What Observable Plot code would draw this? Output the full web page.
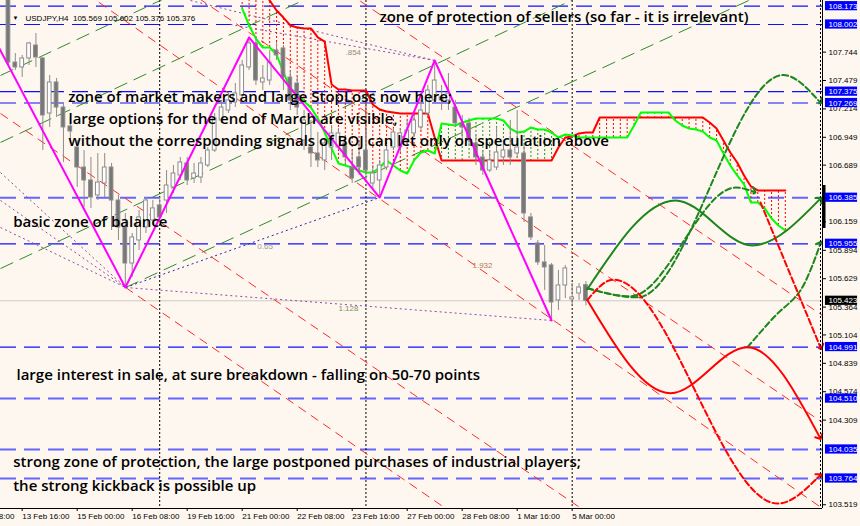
<!DOCTYPE html>
<html><head><meta charset="utf-8">
<script src="https://cdn.jsdelivr.net/npm/d3@7"></script>
<script src="https://cdn.jsdelivr.net/npm/@observablehq/plot@0.6"></script>
<style>
html,body{margin:0;padding:0;background:#fdf7ef;overflow:hidden;}
#chart svg{display:block;}
</style></head><body><div id="chart"></div>
<script>
// ---------- data ----------
const firstBar = -2;
const candleOpen = [108.319,107.647,107.601,107.685,107.806,107.685,107.171,107.461,107.227,107.050,
106.854,106.667,106.546,106.406,106.518,106.667,106.359,106.107,105.771,105.986,
106.107,106.173,106.313,106.359,106.481,106.593,106.705,106.565,106.574,106.686,
106.826,107.106,107.199,107.274,107.339,107.601,107.825,107.461,107.479,107.759,
107.778,107.507,107.451,106.919,106.854,106.798,106.733,106.854,106.854,106.891,
106.667,106.761,106.826,106.518,106.546,106.667,106.854,106.854,106.919,106.985,
107.041,107.171,107.293,107.321,107.293,107.227,107.078,107.078,106.891,106.761,
106.639,106.667,106.761,106.826,106.798,106.798,106.201,105.958,105.781,105.753,
105.426,105.566,105.435,105.491,105.569];
const candleHigh = [108.413,107.731,107.713,107.834,107.918,107.694,107.526,107.498,107.265,107.134,
106.919,106.826,106.761,106.798,106.798,106.705,106.406,106.238,106.051,106.266,
106.387,106.359,106.387,106.639,106.686,106.761,106.761,106.705,106.761,106.854,
107.171,107.293,107.358,107.451,107.666,107.881,107.881,107.619,107.759,107.834,
107.806,107.573,107.526,107.199,107.106,106.994,106.938,107.059,107.031,106.966,
106.826,106.919,107.013,106.686,106.733,106.873,107.031,107.031,107.106,107.153,
107.293,107.433,107.666,107.433,107.545,107.293,107.153,107.125,106.966,106.826,
106.826,107.041,106.919,107.106,107.199,106.873,106.238,105.986,105.939,105.771,
105.706,105.753,105.585,105.585,105.602];
const candleLow = [107.619,107.573,107.507,107.619,107.601,106.826,107.041,107.134,106.714,106.891,
106.481,106.294,106.285,106.359,106.387,106.079,105.986,105.547,105.641,105.892,
106.051,106.126,106.154,106.238,106.424,106.546,106.499,106.518,106.518,106.667,
106.807,107.078,107.171,107.227,107.311,107.573,107.433,107.386,107.433,107.666,
107.386,107.199,107.153,106.826,106.667,106.667,106.639,106.733,106.826,106.686,
106.518,106.593,106.546,106.453,106.387,106.639,106.826,106.807,106.873,106.947,
107.013,107.134,107.265,107.199,107.199,107.041,106.919,106.873,106.686,106.593,
106.621,106.639,106.686,106.686,106.751,106.154,105.986,105.753,105.519,105.239,
105.332,105.444,105.379,105.426,105.376];
const candleClose = [107.647,107.601,107.685,107.825,107.694,107.153,107.461,107.227,107.041,107.003,
106.667,106.546,106.387,106.527,106.667,106.359,106.107,105.771,106.014,106.201,
106.359,106.285,106.201,106.499,106.611,106.714,106.546,106.611,106.705,106.826,
107.125,107.227,107.293,107.358,107.619,107.825,107.479,107.498,107.647,107.713,
107.507,107.293,107.227,107.106,106.798,106.733,106.891,106.985,106.985,106.761,
106.565,106.667,106.639,106.611,106.686,106.826,106.994,106.985,107.013,107.106,
107.199,107.386,107.479,107.293,107.358,107.078,107.041,106.919,106.761,106.639,
106.733,106.807,106.826,106.761,106.854,106.238,106.014,105.781,105.734,105.407,
105.566,105.725,105.454,105.547,105.423];

const cloudFirst = 32;
const spanA = [108.151,107.993,107.871,107.787,107.787,107.722,107.554,107.405,107.358,107.283,
107.227,107.125,106.994,106.845,106.705,106.686,106.667,106.639,106.621,106.621,
106.667,106.733,106.686,106.639,106.611,106.733,106.807,106.826,106.798,107.078,
107.069,107.059,107.087,107.106,107.125,107.125,107.125,107.125,107.106,107.031,
106.994,107.003,107.041,107.022,107.022,106.994,106.947,106.975,106.966,106.947,
106.947,106.947,106.947,106.947,106.947,106.947,106.947,107.059,107.181,107.181,
107.181,107.181,107.181,107.106,107.059,107.031,107.022,107.003,106.947,106.919,
106.798,106.686,106.593,106.509,106.340,106.340,106.285,106.191,106.126,106.079];
const spanB = [108.599,108.506,108.413,108.319,108.226,108.133,108.067,107.993,107.974,107.965,
107.965,107.881,107.843,107.442,107.395,107.395,107.386,107.386,107.386,107.255,
107.209,107.190,107.181,107.171,107.171,107.171,107.171,107.171,106.947,106.733,
106.733,106.733,106.733,106.733,106.733,106.733,106.733,106.733,106.733,106.733,
106.733,106.733,106.733,106.733,106.733,106.733,106.854,106.947,106.957,106.985,
106.994,106.994,107.134,107.134,107.134,107.134,107.134,107.134,107.134,107.134,
107.134,107.134,107.134,107.134,107.134,107.134,107.134,107.134,107.087,107.031,
106.919,106.807,106.714,106.593,106.490,106.453,106.453,106.453,106.453,106.453];

const zigzagBars = [-5, 15, 33, 52, 60, 77];
const zigzagPrices = [107.983, 105.547, 107.881, 106.387, 107.666, 105.239];

const levelsThin = [108.173, 108.002, 107.375, 107.269, 105.955, 104.991];
const levelsHeavy = [106.385, 104.510, 104.035, 103.764];
const bidPrice = 105.423;
const yTicks = [107.744,107.479,107.214,106.949,106.689,106.159,105.894,105.629,105.364,105.104,104.839,104.574,104.309,103.519];
const xTickBars = [-8,0,8,16,24,32,40,48,56,64,72,80];
const xTickLabels = ["12 Feb 08:00","13 Feb 16:00","15 Feb 00:00","16 Feb 08:00","19 Feb 16:00","21 Feb 00:00","22 Feb 08:00","23 Feb 16:00","27 Feb 00:00","28 Feb 08:00","1 Mar 16:00","5 Mar 00:00"];
const weekSeparators = [20, 50, 80];

// projections (bar, price)
const projGreenSolid = [[82.2,105.53],[95,106.36],[106.2,105.94],[116,106.37]];
const projGreenDash1 = [[82.2,105.54],[89.5,105.455],[110.7,107.53],[116,107.28]];
const projGreenDash2 = [[82.2,105.54],[88.5,105.465],[103.8,106.48],[106.4,106.44]];
const projGreenDash3 = [[105.5,104.99],[109.3,105.267],[113.2,105.519],[116.1,105.958]];
const projRedSolid = [[82.2,105.43],[94.3,104.56],[105.5,104.99],[116,104.15]];
const projRedDash1 = [[82.2,105.43],[86,105.62],[109.9,103.53],[116,103.79]];
const projRedDash2 = [[107.4,106.34],[116.1,104.99]];

// channel / fan lines (bar1, price1, bar2, price2)
const greenChannel = [
  [-3.156,107.526,116.41,111.129],
  [-3.156,106.901,116.41,110.504],
  [-3.156,105.724,116.41,109.327],
  [15.04,105.547,116.41,108.543]
];
const redChannel = [
  [-3.156,107.171,116.41,101.953],
  [15.04,105.547,116.41,101.057],
  [-3.156,108.851,116.41,103.484],
  [-3.156,109.505,116.41,104.287],
  [-3.156,110.504,116.41,105.286]
];
const purpleFan = [
  [15.04,105.547,77.0,105.239],
  [-3.156,106.620,15.04,105.547],
  [-3.156,106.107,15.04,105.547],
  [-3.156,106.359,15.04,105.547],
  [24.48,108.226,60,107.666],
  [30.3,108.002,60,107.666]
];
const blueFan = [[15.04,105.547,52,106.387]];

const fibText = [".854","0.65","1.932","1.128"];
const fibBar = [47.02,34.2,65.5,46.0];
const fibPrice = [107.741,105.93,105.752,105.351];

const notes = [
  "zone of protection of sellers (so far - it is irrelevant)",
  "zone of market makers and large StopLoss now here;",
  "large options for the end of March are visible,",
  "without the corresponding signals of BOJ can let only on speculation above",
  "basic zone of balance",
  "large interest in sale, at sure breakdown - falling on 50-70 points",
  "strong zone of protection, the large postponed purchases of industrial players;",
  "the strong kickback is possible up"
];
const noteBar = [51.97, 6.69, 6.73, 6.73, -1.31, -0.83, -1.31, -1.31];
const notePrice = [108.023, 107.274, 107.075, 106.866, 106.116, 104.679, 103.867, 103.652];

const headerText = "USDJPY,H4  105.569 105.602 105.376 105.376";

// ---------- derived tables ----------
const candles = candleOpen.map((o, k) => ({i: firstBar + k, o, h: candleHigh[k], l: candleLow[k], c: candleClose[k]}));
const cloud = spanA.map((a, k) => ({i: cloudFirst + k, a, b: spanB[k]}));
const zigzag = zigzagBars.map((b, k) => [b, zigzagPrices[k]]);
const fibs = fibText.map((t, k) => ({t, x: fibBar[k], y: fibPrice[k]}));
const noteRows = notes.map((t, k) => ({t, x: noteBar[k], y: notePrice[k]}));

// ---------- styling (not data) ----------
const xDomain = [-3.156, 116.41];
const yDomain = [103.484, 108.226];
const noteWidths = [429, 414, 369, 585, 167, 525, 619, 263];
const fibColors = ["#9a8a7a", "#9a9aa8", "#b07850", "#80905a"];
const boxHalf = 0.043;

const P = (d) => d[0], Q = (d) => d[1];
const seg = {x1: d => d[0], y1: d => d[1], x2: d => d[2], y2: d => d[3], clip: true};

const chart = Plot.plot({
  width: 860, height: 526,
  marginLeft: 0, marginRight: 38, marginTop: 0, marginBottom: 18,
  x: {domain: xDomain, axis: null},
  y: {domain: yDomain, axis: null},
  style: {background: "#fdf7ef", fontFamily: "'Liberation Sans', Arial, sans-serif", fontSize: "8px", color: "#000", overflow: "hidden"},
  marks: [
    Plot.ruleY([bidPrice], {stroke: "#cfcac4", strokeWidth: 1}),
    Plot.ruleY(levelsThin, {stroke: "#1010ff", strokeWidth: 1.2, strokeDasharray: "16,8"}),
    Plot.ruleY(levelsHeavy, {stroke: "#6464ff", strokeWidth: 2, strokeDasharray: "16,8"}),
    Plot.ruleX(weekSeparators, {stroke: "#000", strokeWidth: 1, strokeDasharray: "2,2"}),
    Plot.link(greenChannel, {...seg, stroke: "#2e8b2e", strokeWidth: 1, strokeDasharray: "14,7"}),
    Plot.link(redChannel, {...seg, stroke: "#ff2a2a", strokeWidth: 1, strokeDasharray: "9,6"}),
    Plot.link(purpleFan, {...seg, stroke: "#9048a8", strokeWidth: 1, strokeDasharray: "2,3"}),
    Plot.link(blueFan, {...seg, stroke: "#2828a0", strokeWidth: 1, strokeDasharray: "2,3"}),
    // ichimoku cloud hatch + spans
    Plot.ruleX(cloud, {x: "i", y1: "a", y2: "b", stroke: d => d.b > d.a ? "#ff0000" : "#1f9a1f", strokeWidth: 1, strokeDasharray: "2,2", clip: true}),
    Plot.line(cloud, {x: "i", y: "b", stroke: "#ff0000", strokeWidth: 2, clip: true}),
    Plot.line(cloud, {x: "i", y: "a", stroke: "#00ff00", strokeWidth: 2, clip: true}),
    // candles
    Plot.ruleX(candles, {x: "i", y1: "l", y2: "h", stroke: "#8c8c8c", strokeWidth: 1, clip: true}),
    Plot.rect(candles, {x1: d => d.i - 0.27, x2: d => d.i + 0.27, y1: d => Math.min(d.o, d.c), y2: d => Math.max(d.o, d.c),
      fill: d => d.c >= d.o ? "#ffffff" : "#777777", stroke: "#8c8c8c", strokeWidth: 1, clip: true}),
    // zigzag
    Plot.line(zigzag, {x: P, y: Q, stroke: "#ff00ff", strokeWidth: 2, clip: true}),
    // projections
    Plot.line(projGreenSolid, {x: P, y: Q, curve: "monotone-x", stroke: "#1c861c", strokeWidth: 2, markerEnd: "arrow"}),
    Plot.line(projGreenDash1, {x: P, y: Q, curve: "monotone-x", stroke: "#1c861c", strokeWidth: 2, strokeDasharray: "6,3", markerEnd: "arrow"}),
    Plot.line(projGreenDash2, {x: P, y: Q, curve: "monotone-x", stroke: "#1c861c", strokeWidth: 2, strokeDasharray: "6,3", markerEnd: "arrow"}),
    Plot.line(projGreenDash3, {x: P, y: Q, curve: "catmull-rom", stroke: "#1c861c", strokeWidth: 2, strokeDasharray: "6,3", markerEnd: "arrow"}),
    Plot.line(projRedSolid, {x: P, y: Q, curve: "monotone-x", stroke: "#ff0000", strokeWidth: 2, markerEnd: "arrow"}),
    Plot.line(projRedDash1, {x: P, y: Q, curve: "monotone-x", stroke: "#ff0000", strokeWidth: 2, strokeDasharray: "6,3", markerEnd: "arrow"}),
    Plot.line(projRedDash2, {x: P, y: Q, stroke: "#ff0000", strokeWidth: 2, strokeDasharray: "6,3", markerEnd: "arrow"}),
    // fib labels
    Plot.text(fibs, {x: "x", y: "y", text: "t", fill: (d, k) => fibColors[k], fontSize: 8, textAnchor: "start"}),
    // annotations
    Plot.text(noteRows, {x: "x", y: "y", text: "t", textAnchor: "start", lineAnchor: "bottom", fill: "#000",
      fontFamily: "'Open Sans', 'DejaVu Sans', sans-serif", fontSize: 15, fontWeight: 600, ariaLabel: "annot"}),
    // header
    Plot.text(["\u25BC"], {frameAnchor: "top-left", dx: 15, dy: 15, fontSize: 6, fill: "#000", textAnchor: "middle"}),
    Plot.text([headerText], {frameAnchor: "top-left", dx: 25, dy: 15, fontSize: 8, fill: "#000", textAnchor: "start"}),
    // axes frame
    Plot.ruleX([xDomain[1]], {stroke: "#000", strokeWidth: 1}),
    Plot.ruleX([116.12], {stroke: "#000", strokeWidth: 1, strokeDasharray: "2,2"}),
    Plot.ruleY([yDomain[0]], {stroke: "#000", strokeWidth: 1}),
    Plot.ruleX([xDomain[1]], {y1: 106.098, y2: 106.499, stroke: "#000", strokeWidth: 3, dx: 1.5}),
    Plot.axisY({anchor: "right", ticks: yTicks, tickFormat: d => d.toFixed(3), tickSize: 3, tickPadding: 3, fontSize: 8, label: null}),
    Plot.axisX({anchor: "bottom", ticks: xTickBars, tickFormat: d => xTickLabels[xTickBars.indexOf(d)], tickSize: 3, tickPadding: 2, textAnchor: "start", fontSize: 8, label: null}),
    // price boxes
    Plot.rect(levelsThin.concat(levelsHeavy), {x1: xDomain[1] + 0.43, x2: xDomain[1] + 5.1, y1: d => d - boxHalf, y2: d => d + boxHalf, fill: "#0000ff"}),
    Plot.text(levelsThin.concat(levelsHeavy), {x: xDomain[1], y: d => d, dx: 6, text: d => d.toFixed(3), fill: "#ffffff", textAnchor: "start", fontSize: 8}),
    Plot.rect([bidPrice], {x1: xDomain[1] + 0.43, x2: xDomain[1] + 5.1, y1: d => d - boxHalf, y2: d => d + boxHalf, fill: "#000000"}),
    Plot.text([bidPrice], {x: xDomain[1], y: d => d, dx: 6, text: d => d.toFixed(3), fill: "#ffffff", textAnchor: "start", fontSize: 8})
  ]
});

document.getElementById("chart").appendChild(chart);
d3.select(chart).selectAll('g[aria-label="annot"] text').each(function(d, k) {
  this.setAttribute("textLength", noteWidths[k]);
  this.setAttribute("lengthAdjust", "spacingAndGlyphs");
});
</script></body></html>
